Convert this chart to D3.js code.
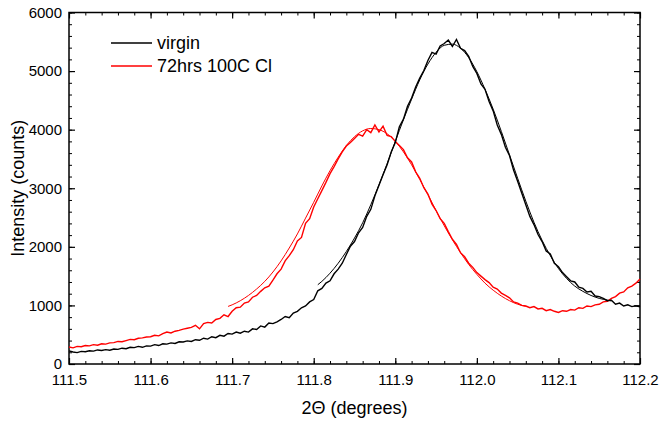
<!DOCTYPE html>
<html>
<head>
<meta charset="utf-8">
<script src="https://cdn.jsdelivr.net/npm/d3@7"></script>
<style>
  body { margin: 0; background: #fff; }
  svg { font-family: "Liberation Sans", Arial, sans-serif; }
</style>
</head>
<body>
<div id="chart"></div>
<script>
// series: [2theta, counts]
const virgin = [
  [111.500,225],[111.505,205],[111.510,195],[111.515,215],[111.520,210],[111.525,225],[111.530,220],[111.535,240],
  [111.540,230],[111.545,245],[111.550,235],[111.555,255],[111.560,250],[111.565,270],[111.570,260],[111.575,285],
  [111.580,280],[111.585,300],[111.590,285],[111.595,310],[111.600,305],[111.605,330],[111.610,315],[111.615,345],
  [111.620,340],[111.625,360],[111.630,350],[111.635,380],[111.640,375],[111.645,395],[111.650,385],[111.655,415],
  [111.660,405],[111.665,440],[111.670,425],[111.675,465],[111.680,450],[111.685,490],[111.690,475],[111.695,520],
  [111.700,510],[111.705,545],[111.710,525],[111.715,560],[111.720,545],[111.725,600],[111.730,590],[111.735,650],
  [111.740,630],[111.745,700],[111.750,690],[111.755,720],[111.760,760],[111.765,810],[111.770,790],[111.775,870],
  [111.780,900],[111.785,960],[111.790,990],[111.795,1060],[111.800,1100],[111.805,1250],[111.810,1290],[111.815,1380],
  [111.820,1420],[111.825,1540],[111.830,1620],[111.835,1720],[111.840,1870],[111.845,2010],[111.850,2090],[111.855,2240],
  [111.860,2330],[111.865,2520],[111.870,2640],[111.875,2870],[111.880,3050],[111.885,3230],[111.890,3400],[111.895,3620],
  [111.900,3780],[111.905,4050],[111.910,4180],[111.915,4400],[111.920,4540],[111.925,4730],[111.930,4880],[111.935,5010],
  [111.940,5180],[111.945,5320],[111.950,5290],[111.955,5430],[111.960,5470],[111.965,5530],[111.970,5420],[111.975,5540],
  [111.980,5390],[111.985,5350],[111.990,5250],[111.995,5080],[112.000,4960],[112.005,4780],[112.010,4690],[112.015,4480],
  [112.020,4320],[112.025,4080],[112.030,3920],[112.035,3700],[112.040,3560],[112.045,3310],[112.050,3120],[112.055,2920],
  [112.060,2720],[112.065,2520],[112.070,2380],[112.075,2210],[112.080,2090],[112.085,1930],[112.090,1880],[112.095,1720],
  [112.100,1660],[112.105,1560],[112.110,1490],[112.115,1420],[112.120,1400],[112.125,1310],[112.130,1290],[112.135,1230],
  [112.140,1240],[112.145,1160],[112.150,1150],[112.155,1120],[112.160,1080],[112.165,1090],[112.170,1020],[112.175,1040],
  [112.180,990],[112.185,1010],[112.190,980],[112.195,995],[112.200,975]
]

const annealed = [
  [111.500,290],[111.505,275],[111.510,300],[111.515,295],[111.520,315],[111.525,310],[111.530,330],[111.535,320],
  [111.540,345],[111.545,340],[111.550,360],[111.555,365],[111.560,385],[111.565,380],[111.570,400],[111.575,420],
  [111.580,415],[111.585,440],[111.590,445],[111.595,460],[111.600,465],[111.605,490],[111.610,480],[111.615,520],
  [111.620,545],[111.625,530],[111.630,560],[111.635,575],[111.640,595],[111.645,610],[111.650,625],[111.655,660],
  [111.660,600],[111.665,690],[111.670,710],[111.675,700],[111.680,760],[111.685,780],[111.690,840],[111.695,810],
  [111.700,900],[111.705,960],[111.710,970],[111.715,1040],[111.720,1060],[111.725,1140],[111.730,1170],[111.735,1240],
  [111.740,1300],[111.745,1330],[111.750,1430],[111.755,1540],[111.760,1620],[111.765,1760],[111.770,1850],[111.775,1950],
  [111.780,2100],[111.785,2160],[111.790,2400],[111.795,2480],[111.800,2680],[111.805,2820],[111.810,2960],[111.815,3100],
  [111.820,3250],[111.825,3370],[111.830,3500],[111.835,3620],[111.840,3720],[111.845,3780],[111.850,3850],[111.855,3920],
  [111.860,3890],[111.865,4000],[111.870,3950],[111.875,4080],[111.880,3960],[111.885,4060],[111.890,3900],[111.895,3880],
  [111.900,3800],[111.905,3730],[111.910,3660],[111.915,3520],[111.920,3450],[111.925,3280],[111.930,3170],[111.935,3010],
  [111.940,2900],[111.945,2730],[111.950,2620],[111.955,2480],[111.960,2400],[111.965,2260],[111.970,2130],[111.975,2040],
  [111.980,1900],[111.985,1830],[111.990,1720],[111.995,1650],[112.000,1560],[112.005,1500],[112.010,1440],[112.015,1390],
  [112.020,1310],[112.025,1280],[112.030,1210],[112.035,1170],[112.040,1130],[112.045,1060],[112.050,1040],[112.055,1000],
  [112.060,990],[112.065,960],[112.070,980],[112.075,940],[112.080,950],[112.085,910],[112.090,930],[112.095,900],
  [112.100,880],[112.105,910],[112.110,900],[112.115,930],[112.120,920],[112.125,960],[112.130,950],[112.135,990],
  [112.140,980],[112.145,1010],[112.150,1020],[112.155,1060],[112.160,1070],[112.165,1120],[112.170,1150],[112.175,1210],
  [112.180,1230],[112.185,1300],[112.190,1330],[112.195,1380],[112.200,1450]
]

// fitted peak profiles
const virginFit = [
  [111.805,1353],[111.81,1410],[111.82,1550],[111.83,1720],[111.84,1920],[111.85,2150],[111.86,2410],[111.87,2720],
  [111.88,3060],[111.89,3420],[111.90,3800],[111.91,4170],[111.92,4520],[111.93,4850],[111.94,5120],[111.95,5320],
  [111.96,5440],[111.97,5460],[111.98,5390],[111.99,5230],[112.00,4990],[112.01,4690],[112.02,4350],[112.03,3970],
  [112.04,3570],[112.05,3170],[112.06,2780],[112.07,2420],[112.08,2110],[112.09,1850],[112.10,1630],[112.11,1460],
  [112.12,1330],[112.13,1240],[112.14,1170],[112.15,1120],[112.16,1090],[112.165,1075]
]

const annealedFit = [
  [111.695,983],[111.70,1010],[111.71,1080],[111.72,1170],[111.73,1280],[111.74,1410],[111.75,1570],[111.76,1760],
  [111.77,1980],[111.78,2220],[111.79,2490],[111.80,2760],[111.81,3040],[111.82,3300],[111.83,3530],[111.84,3730],
  [111.85,3880],[111.86,3980],[111.87,4020],[111.88,4000],[111.89,3930],[111.90,3800],[111.91,3620],[111.92,3400],
  [111.93,3150],[111.94,2890],[111.95,2620],[111.96,2360],[111.97,2120],[111.98,1900],[111.99,1700],[112.00,1530],
  [112.01,1380],[112.02,1260],[112.03,1160],[112.04,1080],[112.05,1020],[112.06,985]
]

const xTicks = [111.5, 111.6, 111.7, 111.8, 111.9, 112.0, 112.1, 112.2]
const yTicks = [0, 1000, 2000, 3000, 4000, 5000, 6000]
const legendLabels = ["virgin", "72hrs 100C Cl"]

let margin = { top: 12.5, right: 19, bottom: 58, left: 69 },
    width = 659 - margin.left - margin.right,
    height = 422 - margin.top - margin.bottom

let svg = d3.select("#chart").append("svg")
    .attr("width", 659)
    .attr("height", 422)
    .append("g")
    .attr("transform", "translate(" + margin.left + "," + margin.top + ")")

let x = d3.scaleLinear().domain([111.5, 112.2]).range([0, width])
let y = d3.scaleLinear().domain([0, 6000]).range([height, 0])

let minorX = d3.range(0, 36).map(i => 111.5 + i * 0.02)
let minorY = d3.range(0, 31).map(i => i * 200)

// ticks inside on all four sides
function tickAxis(axisFn, scale, minor, major, format, pad, translate) {
    let g = svg.append("g").attr("transform", translate)
    g.call(axisFn(scale).tickValues(minor).tickSize(-3).tickFormat(""))
        .call(g => g.select(".domain").remove())
    let gm = svg.append("g").attr("transform", translate)
    gm.call(axisFn(scale).tickValues(major).tickSize(-6).tickPadding(pad)
            .tickFormat(format || ""))
        .call(g => g.select(".domain").remove())
    gm.selectAll("text").attr("font-size", 15).attr("fill", "#000")
    g.selectAll("line").attr("stroke", "#000")
    gm.selectAll("line").attr("stroke", "#000").attr("stroke-width", 1.2)
    return gm
}

tickAxis(d3.axisBottom, x, minorX, xTicks, d3.format(".1f"), 10, "translate(0," + height + ")")
tickAxis(d3.axisTop, x, minorX, xTicks, null, 3, "translate(0,0)")
tickAxis(d3.axisLeft, y, minorY, yTicks, d3.format("d"), 7, "translate(0,0)")
tickAxis(d3.axisRight, y, minorY, yTicks, null, 3, "translate(" + width + ",0)")

svg.append("rect")
    .attr("width", width).attr("height", height)
    .attr("fill", "none").attr("stroke", "#000").attr("stroke-width", 1.5)

let line = d3.line().x(d => x(d[0])).y(d => y(d[1]))
let smooth = d3.line().x(d => x(d[0])).y(d => y(d[1])).curve(d3.curveMonotoneX)

let plot = svg.append("g")
plot.append("path").datum(annealed)
    .attr("fill", "none").attr("stroke", "#ff0000").attr("stroke-width", 1.4).attr("d", line)
plot.append("path").datum(annealedFit)
    .attr("fill", "none").attr("stroke", "#ff0000").attr("stroke-width", 1).attr("d", smooth)
plot.append("path").datum(virgin)
    .attr("fill", "none").attr("stroke", "#000").attr("stroke-width", 1.4).attr("d", line)
plot.append("path").datum(virginFit)
    .attr("fill", "none").attr("stroke", "#000").attr("stroke-width", 1).attr("d", smooth)

// legend
let legend = svg.append("g").attr("transform", "translate(42,30.5)")
legendLabels.forEach((label, i) => {
    let row = legend.append("g").attr("transform", "translate(0," + (i * 23) + ")")
    row.append("line").attr("x1", 0).attr("x2", 41)
        .attr("stroke", i === 0 ? "#000" : "#ff0000").attr("stroke-width", 1.4)
    row.append("text").attr("x", 46).attr("dy", "0.35em")
        .attr("font-size", 18).attr("fill", "#000").text(label)
})

// axis titles
svg.append("text")
    .attr("x", width / 2).attr("y", height + 50)
    .attr("text-anchor", "middle").attr("font-size", 18)
    .text("2\u0398 (degrees)")

svg.append("text")
    .attr("transform", "translate(" + (-45) + "," + (height / 2) + ") rotate(-90)")
    .attr("text-anchor", "middle").attr("font-size", 18)
    .text("Intensity (counts)")
</script>
</body>
</html>
